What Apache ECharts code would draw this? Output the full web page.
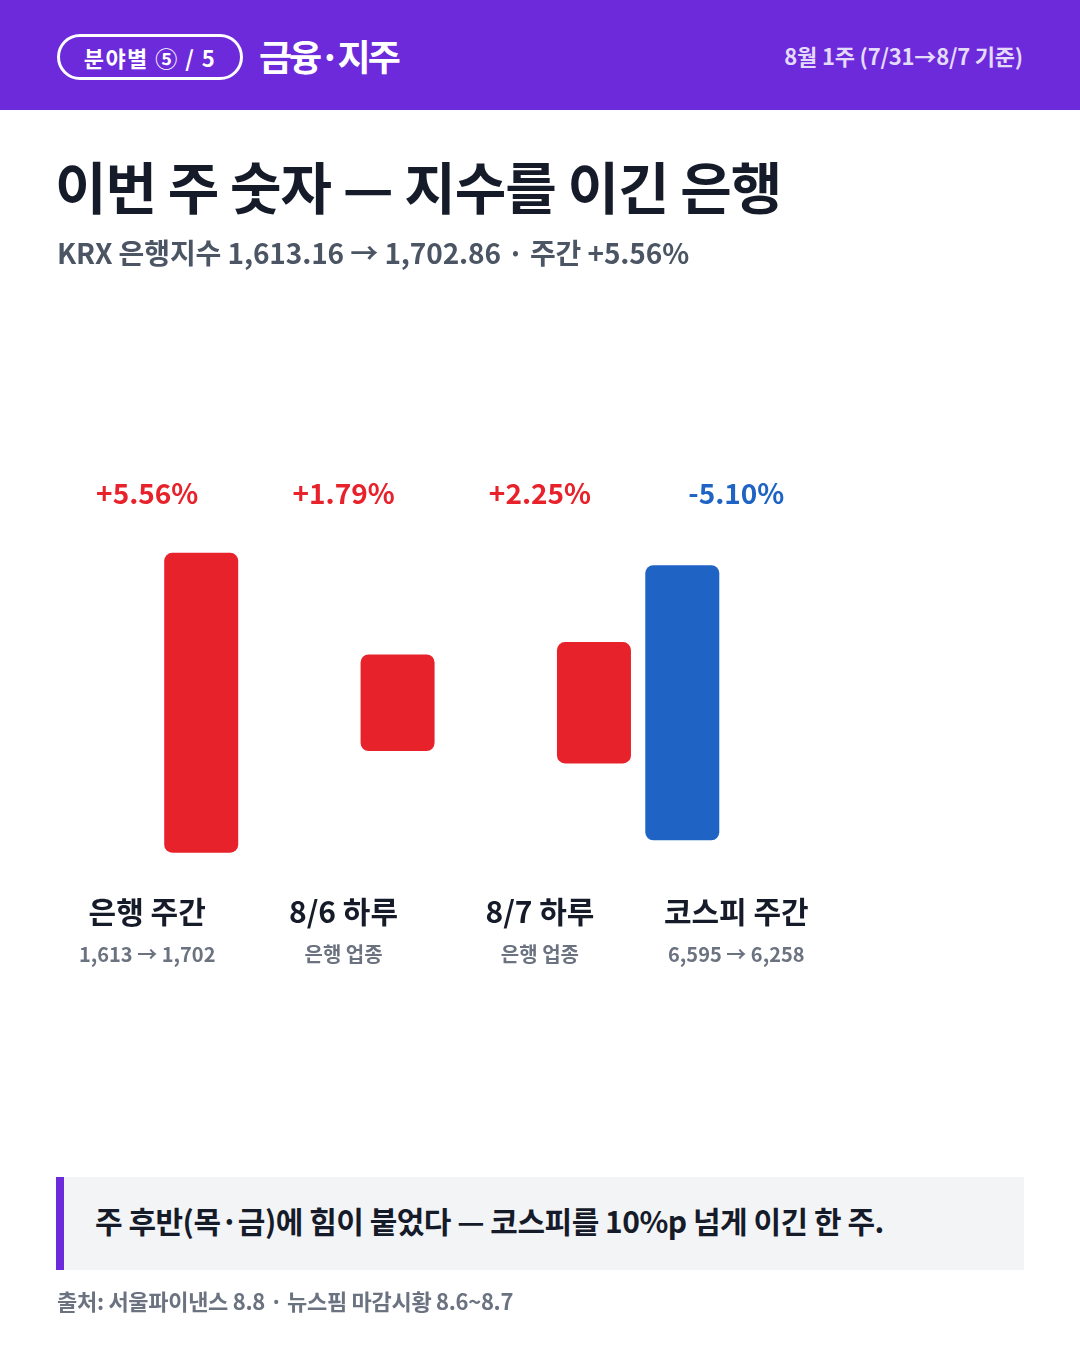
<!DOCTYPE html>
<html><head><meta charset="utf-8">
<script src="https://cdn.jsdelivr.net/npm/echarts@6/dist/echarts.min.js"></script>
<style>
html,body{margin:0;padding:0;width:1080px;height:1350px;background:#fff;font-family:"Noto Sans CJK KR","Noto Sans",sans-serif;overflow:hidden}
#chart{position:absolute;left:0;top:0;width:1080px;height:1350px}
.abs{position:absolute;white-space:nowrap;font-weight:700}
#header{position:absolute;left:0;top:0;width:1080px;height:110px;background:#6D2ADB}
#pill{position:absolute;left:57px;top:34px;width:180px;height:40px;border:3px solid #fff;border-radius:24px;color:#fff;font-size:22px;font-weight:700;display:flex;align-items:center;justify-content:center;letter-spacing:1.5px}
</style></head>
<body>
<div id="chart"></div>
<div id="header">
  <div id="pill">분야별 ⑤ / 5</div>
  <div class="abs" style="left:259px;top:30px;font-size:36px;color:#fff;line-height:50px;letter-spacing:-3px">금융·지주</div>
  <div class="abs" style="right:57px;top:38px;font-size:22px;color:#E4DAFA;line-height:34px;letter-spacing:-0.2px">8월 1주 (7/31→8/7 기준)</div>
</div>
<div class="abs" style="left:55px;top:150px;font-size:56px;color:#161B2A;line-height:70px;letter-spacing:-1px">이번 주 숫자 — 지수를 이긴 은행</div>
<div class="abs" style="left:57px;top:233px;font-size:28px;color:#4B5563;line-height:38px;letter-spacing:-0.1px">KRX 은행지수 1,613.16 → 1,702.86 · 주간 +5.56%</div>
<div style="position:absolute;left:56px;top:1177px;width:968px;height:93px;background:#F3F4F6"></div>
<div style="position:absolute;left:56px;top:1177px;width:8px;height:93px;background:#6D2ADB"></div>
<div class="abs" style="left:95px;top:1200px;font-size:30px;color:#161B2A;line-height:40px;letter-spacing:-0.5px">주 후반(목·금)에 힘이 붙었다 — 코스피를 10%p 넘게 이긴 한 주.</div>
<div class="abs" style="left:57px;top:1285px;font-size:22px;color:#6B7280;line-height:30px;letter-spacing:-0.3px">출처: 서울파이낸스 8.8 · 뉴스핌 마감시황 8.6~8.7</div>
<script>
// ---- data ----
const categories = ['은행 주간', '8/6 하루', '8/7 하루', '코스피 주간'];
const subLabels = ['1,613 → 1,702', '은행 업종', '은행 업종', '6,595 → 6,258'];
const changes = [5.56, 1.79, 2.25, -5.10];
const pctLabels = ['+5.56%', '+1.79%', '+2.25%', '-5.10%'];
const seriesOf = ['bank', 'bank', 'bank', 'kospi'];
// ---- build ----
const RED = '#E8222B', BLUE = '#1F64C4';
const CENTER = 3;
const blueBase = [], blueVal = [], redBase = [], redVal = [];
changes.forEach((v, i) => {
  const m = Math.abs(v);
  const isK = seriesOf[i] === 'kospi';
  blueBase.push(isK ? CENTER - m / 2 : '-');
  blueVal.push(isK ? m : '-');
  redBase.push(!isK ? CENTER - m / 2 : '-');
  redVal.push(!isK ? m : '-');
});
const FONT = '"Noto Sans CJK KR","Noto Sans",sans-serif';
const chart = echarts.init(document.getElementById('chart'), null, {renderer: 'canvas'});
chart.setOption({
  animation: false,
  grid: {left: 49, right: 245.5, top: 541, bottom: 485.5},
  xAxis: [{
    type: 'category', data: categories, position: 'bottom',
    axisLine: {show: false}, axisTick: {show: false},
    axisLabel: {
      margin: 27, interval: 0,
      formatter: (val, idx) => '{a|' + val + '}\n{b|' + subLabels[idx] + '}',
      rich: {
        a: {fontFamily: FONT, fontSize: 30, fontWeight: 700, color: '#161B2A', lineHeight: 40, align: 'center'},
        b: {fontFamily: FONT, fontSize: 20, fontWeight: 700, color: '#6B7280', lineHeight: 46, align: 'center'}
      }
    }
  }, {
    type: 'category', data: pctLabels, position: 'top',
    axisLine: {show: false}, axisTick: {show: false},
    axisLabel: {
      margin: 30, interval: 0,
      formatter: (val, idx) => (changes[idx] >= 0 ? '{r|' : '{b|') + val + '}',
      rich: {
        r: {fontFamily: FONT, fontSize: 28, fontWeight: 700, color: RED, lineHeight: 36},
        b: {fontFamily: FONT, fontSize: 28, fontWeight: 700, color: BLUE, lineHeight: 36}
      }
    }
  }],
  yAxis: {type: 'value', min: 0, max: 6, show: false, splitLine: {show: false}},
  series: [
    {type: 'bar', stack: 'kospi', data: blueBase, itemStyle: {color: 'transparent'}, barWidth: 74, barGap: '46%', silent: true},
    {type: 'bar', stack: 'kospi', data: blueVal, itemStyle: {color: BLUE, borderRadius: 8}, barWidth: 74, barGap: '46%'},
    {type: 'bar', stack: 'bank', data: redBase, itemStyle: {color: 'transparent'}, barWidth: 74, barGap: '46%', silent: true},
    {type: 'bar', stack: 'bank', data: redVal, itemStyle: {color: RED, borderRadius: 8}, barWidth: 74, barGap: '46%'}
  ]
});
</script>
</body></html>
